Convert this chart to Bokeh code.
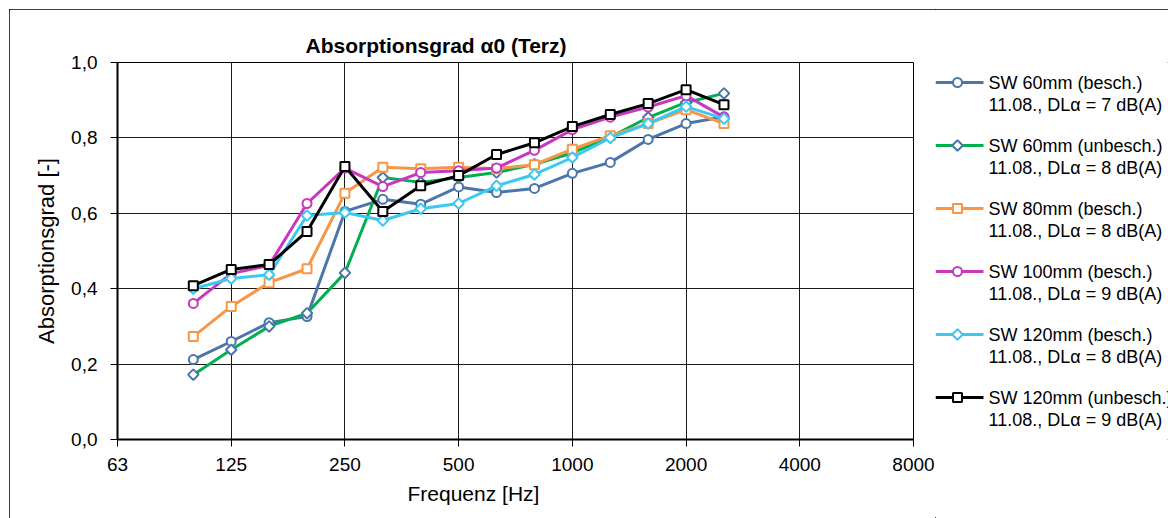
import numpy as np
from bokeh.plotting import figure
from bokeh.layouts import row
from bokeh.models import Range1d, FixedTicker, CustomJSTickFormatter, ColumnDataSource, Title
from bokeh.core.properties import value
from bokeh.embed import file_html
from bokeh.resources import INLINE

# third-octave band grid (axis positions) and tick labels
bands = [63, 80, 100, 125, 160, 200, 250, 315, 400, 500, 630, 800, 1000,
         1250, 1600, 2000, 2500, 3150, 4000, 5000, 6300, 8000]
tick_labels = ["63", "125", "250", "500", "1000", "2000", "4000", "8000"]
y_ticks = [0.0, 0.2, 0.4, 0.6, 0.8, 1.0]

freqs = [100, 125, 160, 200, 250, 315, 400, 500, 630, 800, 1000, 1250, 1600, 2000, 2500]

sw60_besch = [0.212, 0.260, 0.310, 0.326, 0.605, 0.637, 0.624, 0.670, 0.655, 0.666, 0.706, 0.735, 0.796, 0.838, 0.856]
sw60_unbesch = [0.172, 0.238, 0.300, 0.335, 0.442, 0.695, 0.682, 0.695, 0.708, 0.730, 0.760, 0.802, 0.854, 0.894, 0.918]
sw80_besch = [0.273, 0.353, 0.416, 0.453, 0.653, 0.722, 0.718, 0.722, 0.718, 0.729, 0.770, 0.806, 0.838, 0.875, 0.838]
sw100_besch = [0.361, 0.440, 0.462, 0.626, 0.720, 0.671, 0.708, 0.713, 0.720, 0.767, 0.822, 0.855, 0.882, 0.912, 0.855]
sw120_besch = [0.400, 0.427, 0.437, 0.594, 0.602, 0.581, 0.612, 0.626, 0.673, 0.703, 0.748, 0.800, 0.838, 0.883, 0.851]
sw120_unbesch = [0.408, 0.451, 0.464, 0.552, 0.724, 0.605, 0.673, 0.700, 0.756, 0.787, 0.830, 0.862, 0.891, 0.928, 0.888]

names = ["SW 60mm (besch.)", "SW 60mm (unbesch.)", "SW 80mm (besch.)",
         "SW 100mm (besch.)", "SW 120mm (besch.)", "SW 120mm (unbesch.)"]
subtitles = ["11.08., DLα = 7 dB(A)", "11.08., DLα = 8 dB(A)", "11.08., DLα = 8 dB(A)",
             "11.08., DLα = 9 dB(A)", "11.08., DLα = 8 dB(A)", "11.08., DLα = 9 dB(A)"]
series = [sw60_besch, sw60_unbesch, sw80_besch, sw100_besch, sw120_besch, sw120_unbesch]

line_colors = ["#4A76AC", "#00B050", "#F79646", "#C838BE", "#3CC8F4", "#000000"]
marker_colors = ["#4A76AC", "#4A76AC", "#F79646", "#C838BE", "#3CC8F4", "#000000"]
markers = ["circle", "diamond", "square", "circle", "diamond", "square"]

FONT = "Liberation Sans"

def marker_kw(m):
    if m == "circle":
        return dict(marker="circle", size=9, angle=0.0)
    if m == "square":
        return dict(marker="square", size=9, angle=0.0)
    return dict(marker="square", size=7.5, angle=np.pi / 4)

x_of = {f: i for i, f in enumerate(bands)}

# layout (page pixels): row starts at (9, 9)
OX, OY = 9, 9
FL, FR, FT, FB = 117, 913, 62, 439
MAIN_R = 935
W_TOT, H_TOT = 1168, 518

p = figure(width=MAIN_R - OX, height=H_TOT - OY, output_backend="svg", toolbar_location=None,
           x_range=Range1d(0, len(bands) - 1), y_range=Range1d(0, 1),
           min_border_left=FL - OX, min_border_right=MAIN_R - FR,
           min_border_top=FT - OY, min_border_bottom=H_TOT - FB)
p.background_fill_color = "white"
p.border_fill_color = "white"
p.outline_line_color = "black"
p.outline_line_width = 1

p.title.text = "Absorptionsgrad α0 (Terz)"
p.title.text_font = FONT
p.title.text_font_size = "21px"
p.title.text_font_style = "bold"
p.title.text_color = "black"
p.title.align = "left"
p.title.offset = 188
p.title.standoff = 12

xt = [x_of[int(t)] for t in tick_labels]
p.xaxis.ticker = FixedTicker(ticks=xt)
p.xaxis.major_label_overrides = {x: l for x, l in zip(xt, tick_labels)}
p.yaxis.ticker = FixedTicker(ticks=y_ticks)
p.yaxis.formatter = CustomJSTickFormatter(code="return tick.toFixed(1).replace('.', ',');")

for ax in (p.xaxis, p.yaxis):
    ax.axis_line_color = "black"
    ax.axis_line_width = 2
    ax.major_tick_line_color = "black"
    ax.major_tick_line_width = 1
    ax.major_tick_out = 7
    ax.major_tick_in = 0
    ax.minor_tick_out = 0
    ax.minor_tick_in = 0
    ax.major_label_text_font = FONT
    ax.major_label_text_font_size = "19px"
    ax.major_label_text_color = "black"
    ax.axis_label_text_font = FONT
    ax.axis_label_text_font_size = "22px"
    ax.axis_label_text_font_style = "normal"
    ax.axis_label_text_color = "black"

p.yaxis.axis_label = "Absorptionsgrad [-]"
p.xaxis.major_label_standoff = 11
p.yaxis.major_label_standoff = 13
p.yaxis.axis_label_standoff = 9

# x axis title, placed slightly left of the frame centre as in the reference
xtitle = Title(text="Frequenz [Hz]", align="left", offset=407 - FL, standoff=12,
               text_font=FONT, text_font_size="21px", text_font_style="normal",
               text_color="black")
p.add_layout(xtitle, "below")

p.xgrid.ticker = FixedTicker(ticks=xt)
p.ygrid.ticker = FixedTicker(ticks=y_ticks)
for g in (p.xgrid, p.ygrid):
    g.grid_line_color = "#1a1a1a"
    g.grid_line_width = 1

xs = [x_of[f] for f in freqs]
for vals, lc, mc, m in zip(series, line_colors, marker_colors, markers):
    src = ColumnDataSource(dict(x=xs, y=vals))
    p.line("x", "y", source=src, line_color=lc, line_width=3)
    p.scatter("x", "y", source=src, fill_color="white", line_color=mc, line_width=2, **marker_kw(m))

# legend panel: data coordinates equal page pixels, frame aligned with main frame
leg = figure(width=W_TOT - MAIN_R, height=H_TOT - OY, output_backend="svg", toolbar_location=None,
             x_range=Range1d(MAIN_R, W_TOT), y_range=Range1d(FB, FT),
             min_border_left=0, min_border_right=0,
             min_border_top=FT - OY, min_border_bottom=H_TOT - FB)
leg.axis.visible = False
leg.xgrid.visible = False
leg.ygrid.visible = False
leg.outline_line_color = None
leg.background_fill_color = "white"
leg.border_fill_color = "white"

y0, dy, line2 = 82, 63, 22
for i, (lc, mc, m, nm, sub) in enumerate(zip(line_colors, marker_colors, markers, names, subtitles)):
    yy = y0 + i * dy
    leg.line([MAIN_R, 983], [yy, yy], line_color=lc, line_width=3)
    leg.scatter([957], [yy], fill_color="white", line_color=mc, line_width=2, **marker_kw(m))
    leg.text([988, 988], [yy, yy + line2], text=[nm, sub], text_font=value(FONT),
             text_font_size="18px", text_baseline="middle", text_align="left", text_color="black")

layout = row(p, leg, styles={"margin-left": f"{OX}px", "margin-top": f"{OY}px",
                             "outline": "1px solid black", "outline-offset": "-1px"})

open("out.html", "w").write(file_html(layout, INLINE))
